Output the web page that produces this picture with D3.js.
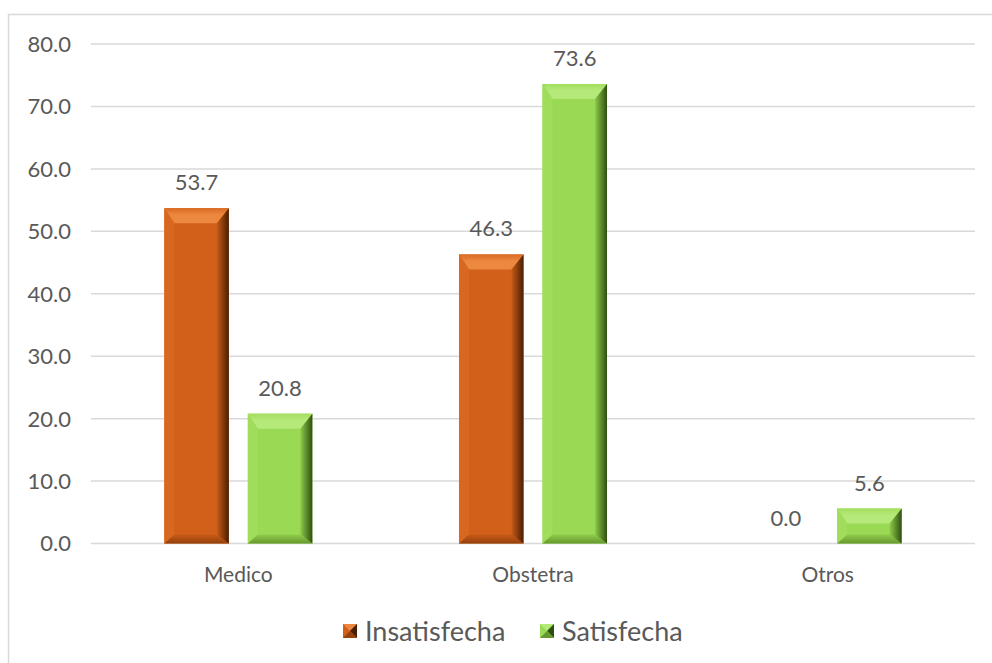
<!DOCTYPE html>
<html>
<head>
<meta charset="utf-8">
<script src="https://cdn.jsdelivr.net/npm/d3@7"></script>
<style>
  html, body { margin: 0; padding: 0; background: #fff; }
  svg { display: block; }
  text { font-family: Lato, "Open Sans", sans-serif; fill: #595959; }
</style>
</head>
<body>
<svg id="chart" width="992" height="663"></svg>
<script>
// Chart data
const categories = ["Medico", "Obstetra", "Otros"];
const seriesNames = ["Insatisfecha", "Satisfecha"];
const insatisfecha = [53.7, 46.3, 0.0];
const satisfecha = [20.8, 73.6, 5.6];
const yTicks = [0, 10, 20, 30, 40, 50, 60, 70, 80];

// Bevel palettes per series
const palettes = {
  Insatisfecha: { base: "#D2601A", top: "#EC8840", topEdge: "#DA6A22", left: "#D86820", right: "#4A1E04", rightIn: "#C85A16", bottom: "#94420E", bottomIn: "#C85A16" },
  Satisfecha:   { base: "#99D953", top: "#B5E97A", topEdge: "#A2DE5E", left: "#A0DD5A", right: "#2F4F12", rightIn: "#8ECB4A", bottom: "#66982F", bottomIn: "#90CC4C" }
};

const svg = d3.select("#chart");
const W = 992, H = 663;
const plot = { left: 91, right: 975, top: 44, bottom: 543.5 };

// Outer frame
svg.append("rect")
  .attr("x", 8.5).attr("y", 14.5)
  .attr("width", W + 10).attr("height", H + 10)
  .attr("fill", "none").attr("stroke", "#D9D9D9").attr("stroke-width", 1.5);

const x0 = d3.scaleBand().domain(categories).range([plot.left, plot.right]).padding(0);
const x1 = d3.scaleBand().domain(seriesNames).range([0, x0.bandwidth()])
  .paddingInner(0.2275).paddingOuter(0.878);
const y = d3.scaleLinear().domain([0, 80]).range([plot.bottom, plot.top]);

// Gridlines
svg.append("g").selectAll("line").data(yTicks).join("line")
  .attr("x1", plot.left).attr("x2", plot.right)
  .attr("y1", d => y(d)).attr("y2", d => y(d))
  .attr("stroke", "#D9D9D9").attr("stroke-width", 1.5);

// Y axis labels
const yAxis = d3.axisLeft(y).tickValues(yTicks).tickFormat(d3.format(".1f")).tickSize(0).tickPadding(20);
const gy = svg.append("g").attr("transform", `translate(${plot.left},0)`).call(yAxis);
gy.select(".domain").remove();
gy.selectAll("text").attr("font-size", 22).attr("fill", "#595959")
  .style("font-family", "Lato, sans-serif").attr("dy", "0.34em");

// X axis labels
const xAxis = d3.axisBottom(x0).tickSize(0).tickPadding(24);
const gx = svg.append("g").attr("transform", `translate(0,${plot.bottom})`).call(xAxis);
gx.select(".domain").remove();
gx.selectAll("text").attr("font-size", 21).attr("fill", "#595959")
  .style("font-family", "Lato, sans-serif");

// Gradients for bevel facets
const defs = svg.append("defs");
Object.entries(palettes).forEach(([name, p]) => {
  const gr = defs.append("linearGradient").attr("id", `r-${name}`)
    .attr("x1", 0).attr("x2", 1).attr("y1", 0).attr("y2", 0);
  gr.append("stop").attr("offset", "0%").attr("stop-color", p.rightIn);
  gr.append("stop").attr("offset", "100%").attr("stop-color", p.right);
  const gb = defs.append("linearGradient").attr("id", `b-${name}`)
    .attr("x1", 0).attr("x2", 0).attr("y1", 0).attr("y2", 1);
  gb.append("stop").attr("offset", "0%").attr("stop-color", p.bottomIn);
  gb.append("stop").attr("offset", "100%").attr("stop-color", p.bottom);
  const gt = defs.append("linearGradient").attr("id", `t-${name}`)
    .attr("x1", 0).attr("x2", 0).attr("y1", 0).attr("y2", 1);
  gt.append("stop").attr("offset", "0%").attr("stop-color", p.topEdge);
  gt.append("stop").attr("offset", "45%").attr("stop-color", p.top);
  gt.append("stop").attr("offset", "100%").attr("stop-color", p.top);
});

// Flatten to one record per bar
const bars = [];
categories.forEach((c, i) => {
  bars.push({ cat: c, series: "Insatisfecha", value: insatisfecha[i] });
  bars.push({ cat: c, series: "Satisfecha", value: satisfecha[i] });
});

const pts = a => a.map(p => p.join(",")).join(" ");

const barG = svg.append("g").selectAll("g").data(bars).join("g");
barG.each(function(d) {
  const g = d3.select(this);
  const bx = x0(d.cat) + x1(d.series);
  const bw = x1.bandwidth();
  const by = y(d.value);
  const bh = plot.bottom - by;
  if (bh <= 0.5) return;
  const p = palettes[d.series];
  const s = Math.min(1, bh / 30);
  const it = 15 * s, ib = 9 * s, il = 10 * s, ir = 12 * s;
  const L = bx, R = bx + bw, T = by, B = plot.bottom;
  g.append("rect").attr("x", L).attr("y", T).attr("width", bw).attr("height", bh).attr("fill", p.base);
  // top facet
  g.append("polygon").attr("points", pts([[L, T], [R, T], [R - ir, T + it], [L + il, T + it]]))
    .attr("fill", `url(#t-${d.series})`);
  // left facet
  g.append("polygon").attr("points", pts([[L, T], [L + il, T + it], [L + il, B - ib], [L, B]]))
    .attr("fill", p.left);
  // bottom facet
  g.append("polygon").attr("points", pts([[L, B], [L + il, B - ib], [R - ir, B - ib], [R, B]]))
    .attr("fill", `url(#b-${d.series})`);
  // right facet
  g.append("polygon").attr("points", pts([[R, T], [R - ir, T + it], [R - ir, B - ib], [R, B]]))
    .attr("fill", `url(#r-${d.series})`);
});

// Value labels
svg.append("g").selectAll("text").data(bars).join("text")
  .attr("x", d => x0(d.cat) + x1(d.series) + x1.bandwidth() / 2)
  .attr("y", d => y(d.value) - 18)
  .attr("text-anchor", "middle")
  .attr("font-size", 22)
  .text(d => d3.format(".1f")(d.value));

// Legend
const legend = svg.append("g");
const legendItems = [
  { name: "Insatisfecha", x: 343 },
  { name: "Satisfecha", x: 540 }
];
legendItems.forEach(it => {
  const p = palettes[it.name];
  const sx = it.x, sy = 624, sz = 14;
  const lg = legend.append("g");
  lg.append("rect").attr("x", sx).attr("y", sy).attr("width", sz).attr("height", sz).attr("fill", p.base);
  lg.append("polygon").attr("points", pts([[sx, sy], [sx + sz, sy], [sx + sz / 2, sy + sz / 2]])).attr("fill", p.top);
  lg.append("polygon").attr("points", pts([[sx + sz, sy], [sx + sz, sy + sz], [sx + sz / 2, sy + sz / 2]])).attr("fill", p.right);
  lg.append("polygon").attr("points", pts([[sx, sy + sz], [sx + sz, sy + sz], [sx + sz / 2, sy + sz / 2]])).attr("fill", p.bottom);
  lg.append("text").attr("x", sx + sz + 8).attr("y", sy + sz / 2).attr("dy", "0.36em")
    .attr("font-size", 27).text(it.name);
});
</script>
</body>
</html>
